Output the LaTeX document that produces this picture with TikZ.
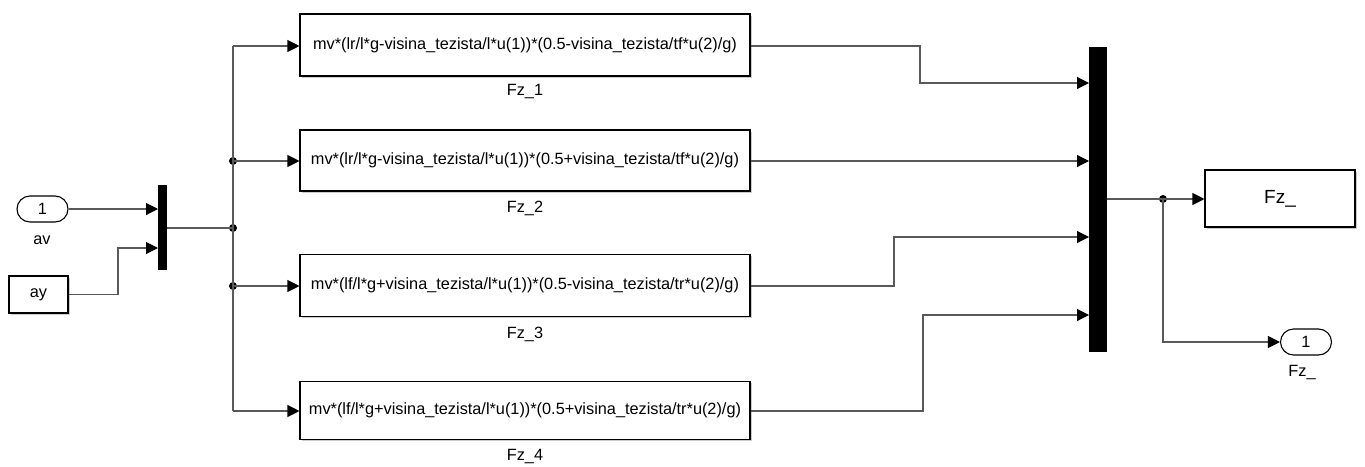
\documentclass[tikz,border=0pt]{standalone}
\usepackage{fontspec}
\setmainfont{Liberation Sans}
\usetikzlibrary{arrows.meta,shapes.misc,shadows}
\begin{document}
\begin{tikzpicture}[x=1pt,y=-1pt,
  wire/.style={draw=black!65, line width=1.1pt},
  arr/.style={wire, -{Triangle[length=12pt,width=12pt,fill=black,color=black]}},
  blk/.style={draw=black, line width=1.1pt, fill=white, inner sep=0pt,
    drop shadow={shadow xshift=1.8pt, shadow yshift=-1.8pt, fill=black!40, opacity=0.5},
    font=\fontsize{16.3}{18}\selectfont},
  port/.style={rounded rectangle, draw=black, line width=1.1pt, fill=white, inner sep=0pt,
    minimum width=51pt, minimum height=26pt, font=\fontsize{16.3}{18}\selectfont},
  bar/.style={fill=black, draw=none, inner sep=0pt},
  lbl/.style={font=\fontsize{16.3}{18}\selectfont, inner sep=0pt},
  dot/.style={circle, fill=black, inner sep=0pt, minimum size=8pt}
]
\useasboundingbox (0,0) rectangle (1365,466);

% inputs
\node[port] (av) at (42.5,209) {1};
\node[lbl] (avlbl) at (42,240) {av};
\node[blk, minimum width=59pt, minimum height=37pt] (ay) at (38.5,294.5) {ay};

% left mux
\node[bar, minimum width=9pt, minimum height=85pt] (muxA) at (162.5,227.5) {};
\coordinate (muxAin1) at (158,209);
\coordinate (muxAin2) at (158,248);
\coordinate (muxAout) at (167,228);

% bus
\coordinate (busTop) at (233,46);
\coordinate (busBot) at (233,411);
\node[dot] (d1) at (233,161) {};
\node[dot] (d2) at (233,228) {};
\node[dot] (d3) at (233,286) {};

% function blocks
\node[blk, minimum width=450pt, minimum height=62pt] (F1) at (525,45)
  {mv*(lr/l*g-visina\_tezista/l*u(1))*(0.5-visina\_tezista/tf*u(2)/g)};
\node[lbl] (F1l) at (525,92) {Fz\_1};
\node[blk, minimum width=450pt, minimum height=61pt] (F2) at (525,160.5)
  {mv*(lr/l*g-visina\_tezista/l*u(1))*(0.5+visina\_tezista/tf*u(2)/g)};
\node[lbl] (F2l) at (525,208) {Fz\_2};
\node[blk, minimum width=450pt, minimum height=62pt] (F3) at (525,285.5)
  {mv*(lf/l*g+visina\_tezista/l*u(1))*(0.5-visina\_tezista/tr*u(2)/g)};
\node[lbl] (F3l) at (525,334) {Fz\_3};
\node[blk, minimum width=450pt, minimum height=58pt] (F4) at (525,410.5)
  {mv*(lf/l*g+visina\_tezista/l*u(1))*(0.5+visina\_tezista/tr*u(2)/g)};
\node[lbl] (F4l) at (525,457) {Fz\_4};

% right mux
\node[bar, minimum width=18pt, minimum height=305pt] (muxB) at (1098,199.5) {};
\coordinate (muxBin1) at (1089,83);
\coordinate (muxBin2) at (1089,161);
\coordinate (muxBin3) at (1089,237);
\coordinate (muxBin4) at (1089,315);
\coordinate (muxBout) at (1107,199);
\node[dot] (d4) at (1163,199) {};

% outputs
\node[blk, minimum width=150pt, minimum height=57pt, font=\fontsize{19}{21}\selectfont] (Fz) at (1280,198.5) {Fz\_};
\node[port] (out) at (1306,342) {1};
\node[lbl] (outlbl) at (1302,373) {Fz\_};

% connections left
\draw[arr] (av.east) -- (muxAin1);
\draw[arr] (ay.east) -- (118,294.5) |- (muxAin2);
\draw[wire] (muxAout) -- (d2.center);
\draw[wire] (busTop) -- (busBot);
\draw[arr] (busTop) -- (F1.west |- busTop);
\draw[arr] (d1.center) -- (F2.west |- d1.center);
\draw[arr] (d3.center) -- (F3.west |- d3.center);
\draw[arr] (busBot) -- (F4.west |- busBot);

% connections right
\draw[arr] (F1.east |- busTop) -- (920,46) |- (muxBin1);
\draw[arr] (F2.east |- muxBin2) -- (muxBin2);
\draw[arr] (F3.east |- d3.center) -- (894,286) |- (muxBin3);
\draw[arr] (F4.east |- busBot) -- (923,411) |- (muxBin4);
\draw[wire] (muxBout) -- (d4.center);
\draw[arr] (d4.center) -- (Fz.west |- d4.center);
\draw[arr] (d4.center) |- (out.west);
\end{tikzpicture}
\end{document}
